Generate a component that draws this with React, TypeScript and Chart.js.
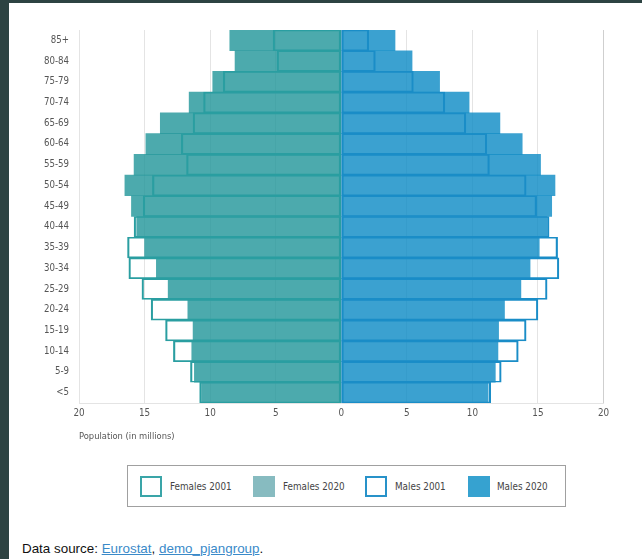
import React, { useEffect, useRef } from 'react';
import { Chart, registerables } from 'chart.js';

Chart.register(...registerables);

const ageGroups = ['85+', '80-84', '75-79', '70-74', '65-69', '60-64', '55-59', '50-54', '45-49', '40-44', '35-39', '30-34', '25-29', '20-24', '15-19', '10-14', '5-9', '<5'];
const females2001 = [5.2, 4.9, 9.0, 10.5, 11.3, 12.2, 11.8, 14.4, 15.1, 15.8, 16.3, 16.2, 15.2, 14.5, 13.4, 12.8, 11.5, 10.8];
const females2020 = [8.5, 8.1, 9.8, 11.6, 13.8, 14.9, 15.8, 16.5, 16.0, 15.6, 15.0, 14.1, 13.2, 11.7, 11.3, 11.4, 11.2, 10.65];
const males2001 = [2.1, 2.6, 5.5, 7.9, 9.5, 11.1, 11.3, 14.1, 14.9, 15.85, 16.5, 16.6, 15.7, 15.0, 14.1, 13.5, 12.2, 11.4];
const males2020 = [4.1, 5.4, 7.5, 9.75, 12.1, 13.8, 15.2, 16.3, 16.05, 15.7, 15.1, 14.4, 13.7, 12.45, 12.0, 11.95, 11.75, 11.2];
const xTicks = [-20, -15, -10, -5, 0, 5, 10, 15, 20];

const FONT = "'Liberation Sans Narrow', 'DejaVu Sans Condensed', 'Arial Narrow', sans-serif";
const FEM_LINE = '#2a9ea1';
const FEM_FILL = 'rgba(31,149,153,0.8)';
const MAL_LINE = '#1a8dc7';
const MAL_FILL = 'rgba(10,138,196,0.8)';

const legendItems = [
  { label: 'Females 2001', left: 12, textLeft: 42, bg: '#fff', border: '2px solid #3aa5a8' },
  { label: 'Females 2020', left: 125, textLeft: 155, bg: '#87bbc0', border: '2px solid #87bbc0' },
  { label: 'Males 2001', left: 237, textLeft: 267, bg: '#fff', border: '2px solid #2892c9' },
  { label: 'Males 2020', left: 340, textLeft: 369, bg: '#36a2d0', border: '2px solid #36a2d0' },
];

export default function App() {
  const ref = useRef<HTMLCanvasElement>(null);

  useEffect(() => {
    const outline = { top: 1, bottom: 1, left: 1.5, right: 1.5 };
    const chart = new Chart(ref.current as HTMLCanvasElement, {
      type: 'bar',
      data: {
        labels: ageGroups,
        datasets: [
          {
            label: 'Females 2001',
            data: females2001.map((v) => -v),
            backgroundColor: 'rgba(0,0,0,0)',
            borderColor: FEM_LINE,
            borderWidth: outline,
            borderSkipped: false,
          },
          {
            label: 'Males 2001',
            data: males2001,
            backgroundColor: 'rgba(0,0,0,0)',
            borderColor: MAL_LINE,
            borderWidth: outline,
            borderSkipped: false,
          },
          {
            label: 'Females 2020',
            data: females2020.map((v) => -v),
            backgroundColor: FEM_FILL,
            borderWidth: 0,
          },
          {
            label: 'Males 2020',
            data: males2020,
            backgroundColor: MAL_FILL,
            borderWidth: 0,
          },
        ],
      } as any,
      options: {
        indexAxis: 'y',
        responsive: false,
        animation: false,
        datasets: { bar: { grouped: false, barPercentage: 1, categoryPercentage: 1 } } as any,
        layout: { padding: { top: 27, right: 38.5, bottom: 0, left: 0 } },
        plugins: { legend: { display: false }, tooltip: { enabled: false } },
        scales: {
          x: {
            type: 'linear',
            min: -20,
            max: 20,
            afterBuildTicks: (s: any) => {
              s.ticks = xTicks.map((v) => ({ value: v }));
            },
            ticks: {
              callback: (v: any) => String(Math.abs(Number(v))),
              padding: 5,
              color: '#555',
              font: { family: FONT, size: 9.8 },
            },
            grid: {
              color: (c: any) => (c.tick && c.tick.value === 20 ? '#cfcfcf' : '#e4e4e4'),
              drawTicks: false,
            },
            border: { color: '#e4e4e4' },
            title: {
              display: true,
              text: 'Population (in millions)',
              align: 'start',
              color: '#555',
              font: { family: FONT, size: 9.3 },
              padding: { top: 0, bottom: 8 },
            },
            afterFit: (s: any) => {
              s.height = 47;
            },
          },
          y: {
            grid: { display: false, drawTicks: false },
            border: { color: '#e4e4e4' },
            ticks: {
              padding: 10,
              color: '#555',
              font: { family: FONT, size: 9.6 },
            },
            afterFit: (s: any) => {
              s.width = 70;
            },
          },
        },
      } as any,
    });
    return () => chart.destroy();
  }, []);

  return (
    <div style={{ position: 'fixed', left: 0, top: 0, width: 642, height: 559, background: '#2d4342', overflow: 'hidden' }}>
      <div style={{ position: 'absolute', left: 9, top: 3, right: 0, bottom: 0, background: '#fff' }} />
      <canvas
        ref={ref}
        width={633}
        height={447}
        style={{ position: 'absolute', left: 9, top: 3, width: 633, height: 447 }}
      />
      <div
        style={{
          position: 'absolute',
          left: 127,
          top: 465,
          width: 437,
          height: 40,
          border: '1px solid #a0a0a0',
          fontFamily: FONT,
          fontSize: 9.8,
          color: '#444',
        }}
      >
        {legendItems.map((it) => (
          <React.Fragment key={it.label}>
            <div
              style={{
                position: 'absolute',
                left: it.left,
                top: 10,
                width: 18,
                height: 17,
                background: it.bg,
                border: it.border,
              }}
            />
            <div style={{ position: 'absolute', left: it.textLeft, top: 13, lineHeight: '15px', whiteSpace: 'nowrap' }}>
              {it.label}
            </div>
          </React.Fragment>
        ))}
      </div>
      <div
        style={{
          position: 'absolute',
          left: 22,
          top: 541,
          fontFamily: "'Liberation Sans', Arial, sans-serif",
          fontSize: 13.4,
          lineHeight: '16px',
          color: '#111',
          whiteSpace: 'nowrap',
        }}
      >
        Data source:{' '}
        <a href="#" style={{ color: '#3a8ac9', textDecoration: 'underline' }}>Eurostat</a>,{' '}
        <a href="#" style={{ color: '#3a8ac9', textDecoration: 'underline' }}>demo_pjangroup</a>.
      </div>
    </div>
  );
}
